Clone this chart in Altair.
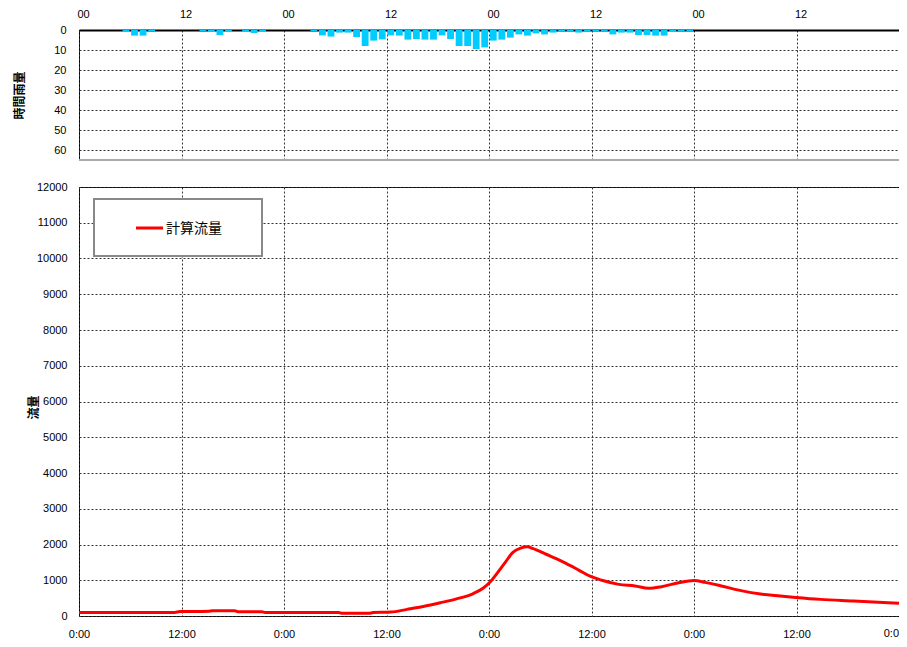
import altair as alt
import pandas as pd

# ---- data ----
rain_hours = [5, 6, 7, 8, 14, 15, 16, 17, 19, 20, 21,
              27, 28, 29, 30, 31, 32, 33, 34, 35, 36, 37, 38, 39, 40, 41, 42, 43,
              44, 45, 46, 47, 48, 49, 50, 51, 52, 53, 54, 55, 56, 57, 58, 59,
              60, 61, 62, 63, 64, 65, 66, 67, 68, 69, 70, 71]
rain_mm = [1.0, 2.8, 2.8, 0.5, 0.5, 1.0, 2.5, 1.0, 1.0, 1.5, 1.0,
           0.5, 2.7, 3.3, 1.3, 1.3, 3.5, 8.0, 5.3, 4.7, 2.7, 2.8, 4.8, 4.5, 4.8, 4.8, 2.7, 4.5,
           8.0, 8.0, 9.5, 8.7, 5.3, 4.8, 3.8, 2.2, 2.8, 1.7, 2.2, 1.3, 0.8, 0.8, 1.3, 0.8,
           0.8, 0.8, 2.2, 1.3, 1.3, 2.5, 2.5, 2.8, 2.8, 1.0, 0.7, 0.7]

flow_hours = [0, 6, 11.2, 11.8, 15.2, 15.6, 18.2, 18.6, 21.4, 21.8, 30.4, 30.8, 34.0, 34.4,
              36.5, 38.4, 40.3, 42.3, 44.2, 46.1, 47.3, 48.1, 48.9, 49.9, 50.8, 51.7, 52.5,
              53.1, 54.6, 56.6, 58.5, 59.9, 61.2, 63.2, 65.1, 66.7, 68.2, 70.2, 72.0, 73.3,
              75.2, 77.5, 79.8, 82.1, 83.9, 86.8, 90.7, 96]
flow_vals = [100, 100, 100, 125, 130, 150, 150, 120, 120, 100, 100, 75, 75, 95,
             110, 185, 265, 370, 480, 620, 775, 945, 1180, 1500, 1780, 1900, 1935,
             1890, 1735, 1520, 1285, 1105, 1000, 885, 840, 775, 820, 930, 990, 940,
             840, 710, 615, 560, 520, 465, 420, 355]

x_ticks = [0, 12, 24, 36, 48, 60, 72, 84]
x_last = 96
x_last_label = "0:0"
rain_ticks = [0, 10, 20, 30, 40, 50, 60]
flow_ticks = list(range(0, 12001, 1000))
legend_label = "計算流量"
rain_title = "時間雨量"
flow_title = "流量"

rain_df = pd.DataFrame({"h": rain_hours, "mm": rain_mm})
flow_df = pd.DataFrame({"h": flow_hours, "q": flow_vals})
legend_df = pd.DataFrame({"t": [legend_label]})
last_df = pd.DataFrame({"h": [x_last], "t": [x_last_label]})

W = 820
H_TOP = 130
H_BOT = 429
GRID = dict(grid=True, gridColor="#333333", gridDash=[2, 2], gridWidth=1)
JP = "Noto Sans CJK JP"
NUM = "Liberation Sans"

xscale = alt.Scale(domain=[0, 96], nice=False, zero=False)

rain_bars = alt.Chart(rain_df).transform_calculate(
    h0="datum.h + 0.1", h1="datum.h + 0.9"
).mark_rect(color="#00CCFF").encode(
    x=alt.X("h0:Q", scale=xscale,
            axis=alt.Axis(orient="top", values=x_ticks, title=None,
                          labelExpr="datum.value % 24 == 0 ? '00' : '12'",
                          labelFlush=False, labelOffset=4, labelPadding=11, domain=True,
                          domainColor="black", domainWidth=2, **GRID)),
    x2="h1:Q",
    y=alt.Y("mm:Q", scale=alt.Scale(domain=[0, 65], reverse=True, nice=False),
            axis=alt.Axis(values=rain_ticks, title=rain_title, titleX=-60,
                          titleY=H_TOP / 2, titleAlign="center", titleBaseline="middle",
                          labelPadding=13, format="d", **GRID)),
    y2=alt.datum(0),
)

top_bottom_edge = alt.Chart(legend_df).mark_rule(color="#aaaaaa", strokeWidth=2).encode(
    x=alt.value(0), x2=alt.value(W), y=alt.value(H_TOP)
)

top = alt.layer(rain_bars, top_bottom_edge).properties(width=W, height=H_TOP)

flow_line = alt.Chart(flow_df).mark_line(color="#FF0000", strokeWidth=3,
                                         interpolate="monotone").encode(
    x=alt.X("h:Q", scale=xscale,
            axis=alt.Axis(values=x_ticks, title=None, labelFlush=False,
                          labelExpr="datum.value % 24 == 0 ? '0:00' : '12:00'",
                          labelPadding=12, **GRID)),
    y=alt.Y("q:Q", scale=alt.Scale(domain=[0, 12000], nice=False),
            axis=alt.Axis(values=flow_ticks, title=flow_title, titleX=-46,
                          titleY=220, titleAlign="center", titleBaseline="middle",
                          labelPadding=12, format="d", **GRID)),
)

last_label = alt.Chart(last_df).mark_text(align="right", baseline="top", font=NUM,
                                          fontSize=11, color="black").encode(
    x=alt.X("h:Q"), y=alt.value(H_BOT + 12), text="t:N"
)

legend_box = alt.Chart(legend_df).mark_rect(fill="white", stroke="#888888", strokeWidth=2).encode(
    x=alt.value(15), x2=alt.value(183), y=alt.value(12), y2=alt.value(69)
)
legend_line = alt.Chart(legend_df).mark_rule(color="#FF0000", strokeWidth=3).encode(
    x=alt.value(57), x2=alt.value(84), y=alt.value(41)
)
legend_text = alt.Chart(legend_df).mark_text(align="left", baseline="middle", fontSize=14,
                                             font=JP, color="black").encode(
    x=alt.value(87), y=alt.value(42), text="t:N"
)

bottom = alt.layer(flow_line, last_label, legend_box, legend_line, legend_text).properties(
    width=W, height=H_BOT)

chart = alt.vconcat(top, bottom, spacing=27, bounds="flush").properties(
    padding={"left": 4, "top": -1, "right": -7, "bottom": 0}
).configure_view(stroke="black", strokeWidth=1).configure_axis(
    labelFont=NUM, labelFontSize=11, labelColor="black",
    titleFont=JP, titleFontSize=12, titleFontWeight="bold", titleColor="black",
    ticks=False, domain=False
)

chart.save("out.html", embed_options={"renderer": "svg", "actions": False})
